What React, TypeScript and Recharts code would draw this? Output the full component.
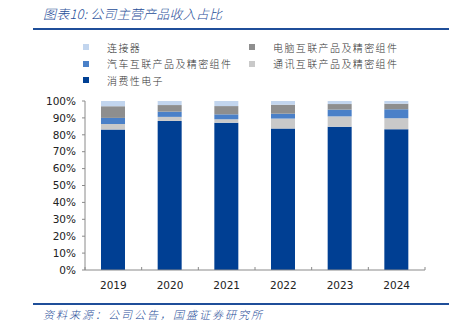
import { BarChart, Bar, XAxis, YAxis, Legend } from 'recharts';

const years = ['2019', '2020', '2021', '2022', '2023', '2024'];
// 占比 (%), stacked bottom -> top
const consumer = [83.1, 88.2, 87.2, 83.7, 84.8, 83.3];
const telecom = [3.3, 2.4, 2.0, 5.9, 6.1, 6.5];
const auto = [3.6, 3.1, 2.9, 2.9, 4.0, 5.3];
const computer = [6.9, 3.9, 4.9, 5.3, 3.3, 3.3];
const connector = [3.1, 2.4, 3.0, 2.2, 1.8, 1.6];
const yTicks = [0, 10, 20, 30, 40, 50, 60, 70, 80, 90, 100];

const series = [
  { key: 'consumer', name: '消费性电子', color: '#003F93', values: consumer },
  { key: 'telecom', name: '通讯互联产品及精密组件', color: '#C9C9C9', values: telecom },
  { key: 'auto', name: '汽车互联产品及精密组件', color: '#4A80C8', values: auto },
  { key: 'computer', name: '电脑互联产品及精密组件', color: '#8E8E8E', values: computer },
  { key: 'connector', name: '连接器', color: '#C2D5EE', values: connector },
];
// legend reads row by row, two columns
const legendOrder = ['connector', 'computer', 'auto', 'telecom', 'consumer'];

const data = years.map((year, i) => {
  const row: Record<string, string | number> = { year };
  series.forEach((s) => {
    row[s.key] = s.values[i];
  });
  return row;
});

const W = 459;
const M = { top: 101, right: 34, left: 25, bottom: 0 };
const Y_W = 60;
const band = (W - M.left - M.right - Y_W) / years.length;
const blue = '#1F4E99';
const axisColor = '#8A8A8A';

const XTick = (props: any) => {
  const { x, y, payload, index } = props;
  return (
    <g>
      {index === 0 && <line x1={x - band / 2} x2={x - band / 2} y1={y} y2={y - 3} stroke={axisColor} />}
      <line x1={x + band / 2} x2={x + band / 2} y1={y} y2={y - 3} stroke={axisColor} />
      <text x={x} y={y + 15} textAnchor="middle" dominantBaseline="central" fontSize={10.5} fill="#222" fontFamily="DejaVu Sans">
        {payload.value}
      </text>
    </g>
  );
};

const LegendBox = () => {
  const items = legendOrder.map((k) => series.find((s) => s.key === k)!);
  return (
    <div
      style={{
        display: 'grid',
        gridTemplateColumns: '166px 180px',
        rowGap: 4,
        paddingLeft: 83,
        fontFamily: '"Noto Sans CJK SC", sans-serif',
        fontSize: 10,
        fontWeight: 300,
        letterSpacing: 1.4,
        color: '#333',
      }}
    >
      {items.map((it) => (
        <div key={it.key} style={{ display: 'flex', alignItems: 'center', height: 12.5 }}>
          <span style={{ width: 6, height: 6, background: it.color, display: 'inline-block', marginRight: 18 }} />
          <span>{it.name}</span>
        </div>
      ))}
    </div>
  );
};

export default function App() {
  return (
    <div style={{ position: 'absolute', left: 0, top: 0, width: W, height: 326, background: '#fff' }}>
      <div
        style={{
          position: 'absolute',
          left: 43,
          top: 5,
          fontFamily: '"Noto Sans CJK SC", sans-serif',
          fontStyle: 'italic',
          fontWeight: 300,
          fontSize: 13,
          letterSpacing: 0.2,
          color: blue,
          lineHeight: '18px',
        }}
      >
        图表10: 公司主营产品收入占比
      </div>
      <div style={{ position: 'absolute', left: 33, top: 28, width: 416, height: 2, background: blue }} />
      <BarChart
        width={W}
        height={300}
        data={data}
        margin={M}
        style={{ fontFamily: 'DejaVu Sans' }}
      >
        <XAxis
          dataKey="year"
          height={30}
          tickLine={false}
          tickSize={0}
          tickMargin={0}
          axisLine={{ stroke: axisColor }}
          tick={<XTick />}
          interval={0}
        />
        <YAxis
          width={Y_W}
          domain={[0, 100]}
          ticks={yTicks}
          interval={0}
          tickFormatter={(v: number) => `${v}%`}
          tick={{ fontSize: 10.5, fill: '#222', fontFamily: 'DejaVu Sans' }}
          tickSize={3}
          tickMargin={6}
          axisLine={{ stroke: axisColor }}
          tickLine={{ stroke: axisColor }}
        />
        <Legend
          layout="horizontal"
          verticalAlign="middle"
          align="center"
          content={<LegendBox />}
          wrapperStyle={{ top: 41, left: 0, width: W }}
        />
        {series.map((s) => (
          <Bar key={s.key} dataKey={s.key} name={s.name} stackId="a" fill={s.color} barSize={24} isAnimationActive={false} />
        ))}
      </BarChart>
      <div style={{ position: 'absolute', left: 33, top: 303, width: 416, height: 2, background: blue }} />
      <div
        style={{
          position: 'absolute',
          left: 43,
          top: 306,
          fontFamily: '"Noto Sans CJK SC", sans-serif',
          fontStyle: 'italic',
          fontWeight: 300,
          fontSize: 11,
          letterSpacing: 2,
          color: blue,
          lineHeight: '16px',
        }}
      >
        资料来源：公司公告，国盛证券研究所
      </div>
    </div>
  );
}
